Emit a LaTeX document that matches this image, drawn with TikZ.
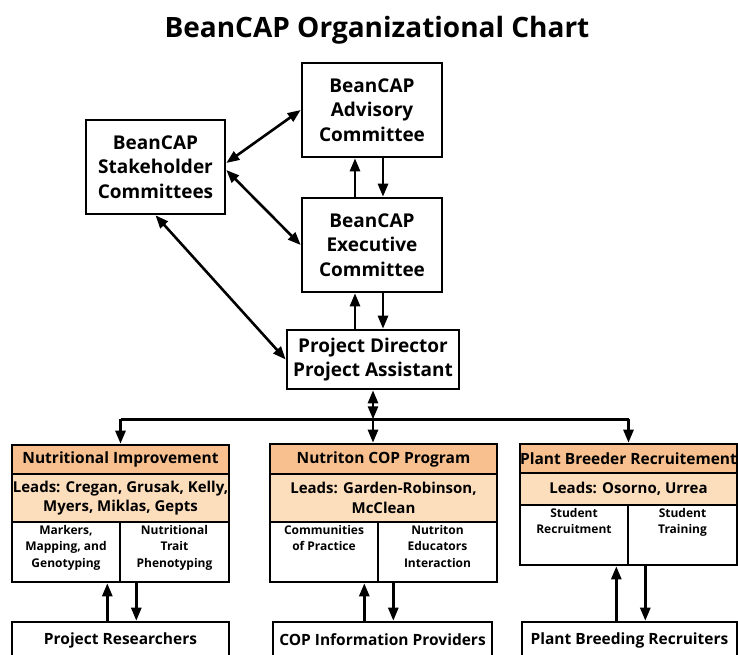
\documentclass[tikz,border=0pt]{standalone}
\usepackage{fontspec}
\setmainfont{Open Sans}
\usetikzlibrary{arrows.meta,positioning}
\definecolor{headorange}{HTML}{F7C08E}
\definecolor{leadorange}{HTML}{FCDDBC}

\begin{document}
\begin{tikzpicture}[x=1pt, y=-1pt,
    every node/.style={inner sep=0pt, align=center, font=\bfseries},
    mainbox/.style={draw, line width=2.6pt, font=\bfseries\fontsize{19}{24.5}\selectfont},
    lowbox/.style={draw, line width=2.6pt, font=\bfseries\fontsize{15.5}{20}\selectfont},
    headbox/.style={draw, line width=2.6pt, fill=headorange, font=\bfseries\fontsize{15.5}{18}\selectfont},
    leadbox/.style={draw, line width=2.6pt, fill=leadorange, font=\bfseries\fontsize{15}{19.5}\selectfont},
    subbox/.style={draw, line width=2.6pt},
    subtext/.style={font=\bfseries\fontsize{12}{16.5}\selectfont},
    link/.style={line width=2.6pt, -{Triangle[length=13pt,width=10pt]}},
    both/.style={line width=2.6pt, {Triangle[length=13pt,width=10pt]}-{Triangle[length=13pt,width=10pt]}}]
      \useasboundingbox (0,0) rectangle (738,654);
      %
      \node (title) at (377,30) {\fontsize{28}{32}\selectfont BeanCAP Organizational Chart};
      %
      \node[mainbox, minimum width=140, minimum height=94] (adv) at (372,110) {BeanCAP\\Advisory\\Committee};
      \node[mainbox, minimum width=140, minimum height=94] (exec) at (372,245) {BeanCAP\\Executive\\Committee};
      \node[mainbox, minimum width=139, minimum height=94] (stake) at (155.5,167) {BeanCAP\\Stakeholder\\Committees};
      \node[mainbox, minimum width=172, minimum height=59] (pd) at (373,359.5) {Project Director\\Project Assistant};
      %
      \draw[both] ([yshift=4pt]stake.east) -- (adv.west);
      \draw[both] ([yshift=-3pt]stake.east) -- (exec.west);
      \draw[both] (stake.south) -- (pd.west);
      %
      \coordinate (upa) at ([xshift=-17pt]adv.south);
      \coordinate (dna) at ([xshift=11pt]adv.south);
      \draw[link] (upa |- exec.north) -- (upa);
      \draw[link] (dna) -- (dna |- exec.north);
      \draw[link] (upa |- pd.north) -- (upa |- exec.south);
      \draw[link] (dna |- exec.south) -- (dna |- pd.north);
      %
      % three programs
      \node[headbox, minimum width=217, minimum height=29] (nutr) at (120.5,459.5) {Nutritional Improvement};
      \node[leadbox, minimum width=217, minimum height=48] (nutrlead) at (120.5,498) {\makebox[0pt]{Leads: Cregan, Grusak, Kelly,}\\Myers, Miklas, Gepts};
      \node[subbox, minimum width=108, minimum height=60] (marker) at (66,552) {};
      \node[subbox, minimum width=109, minimum height=60] (trait) at (174.5,552) {};
      \node[subtext, below=4pt of marker.north] {Markers,\\Mapping, and\\Genotyping};
      \node[subtext, below=4pt of trait.north] {Nutritional\\Trait\\Phenotyping};
      %
      \node[headbox, minimum width=227, minimum height=30] (cop) at (383.5,459) {Nutriton COP Program};
      \node[leadbox, minimum width=227, minimum height=48] (coplead) at (383.5,498) {Leads: Garden-Robinson,\\McClean};
      \node[subbox, minimum width=108, minimum height=60] (comm) at (324,552) {};
      \node[subbox, minimum width=119, minimum height=60] (educ) at (437.5,552) {};
      \node[subtext, below=4pt of comm.north] {Communities\\of Practice};
      \node[subtext, below=4pt of educ.north] {Nutriton\\Educators\\Interaction};
      %
      \node[headbox, minimum width=217, minimum height=29] (breed) at (628.5,458.5) {Plant Breeder Recruitement};
      \node[leadbox, minimum width=217, minimum height=32] (breedlead) at (628.5,489) {Leads: Osorno, Urrea};
      \node[subbox, minimum width=108, minimum height=60] (recr) at (574,535) {};
      \node[subbox, minimum width=109, minimum height=60] (train) at (682.5,535) {};
      \node[subtext, below=4pt of recr.north] {Student\\Recruitment};
      \node[subtext, below=4pt of train.north] {Student\\Training};
      %
      % bus
      \coordinate (bus) at ([yshift=-29pt]pd.south);
      \draw[both] (pd.south) -- (bus);
      \draw[line width=2.6pt] (bus -| nutr.north) -- (bus -| breed.north);
      \draw[link] (bus -| nutr.north) -- (nutr.north);
      \draw[link] (bus) -- (bus |- cop.north);
      \draw[link] (bus -| breed.north) -- (breed.north);
      %
      % bottom boxes
      \node[lowbox, minimum width=217, minimum height=36] (res) at (120.5,640) {Project Researchers};
      \node[lowbox, minimum width=219, minimum height=36] (info) at (382.5,640) {COP Information Providers};
      \node[lowbox, minimum width=215, minimum height=36] (recruit) at (629.5,640) {Plant Breeding Recruiters};
      %
      \coordinate (upl) at ([xshift=-14pt]marker.south east);
      \coordinate (dnl) at ([xshift=15pt]marker.south east);
      \coordinate (upm) at ([xshift=-15pt]comm.south east);
      \coordinate (dnm) at ([xshift=14pt]comm.south east);
      \coordinate (upr) at ([xshift=-13pt]recr.south east);
      \coordinate (dnr) at ([xshift=16pt]recr.south east);
      \draw[link] (upl |- res.north) -- (upl);
      \draw[link] (dnl) -- (dnl |- res.north);
      \draw[link] (upm |- info.north) -- (upm);
      \draw[link] (dnm) -- (dnm |- info.north);
      \draw[link] (upr |- recruit.north) -- (upr);
      \draw[link] (dnr) -- (dnr |- recruit.north);
      %
    \end{tikzpicture}
\end{document}
